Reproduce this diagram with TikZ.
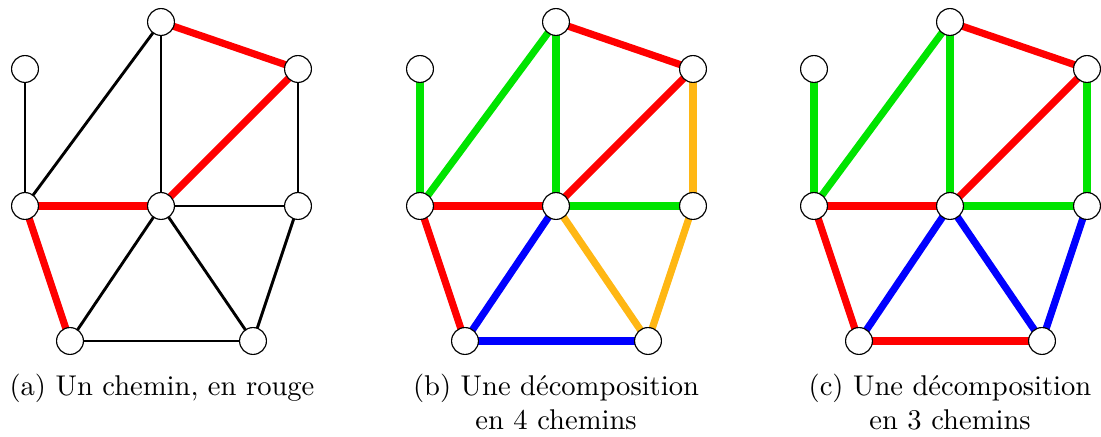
\documentclass[tikz,border=0pt]{standalone}
\usetikzlibrary{backgrounds}
\definecolor{cred}{RGB}{255,0,0}
\definecolor{cgreen}{RGB}{0,228,0}
\definecolor{cblue}{RGB}{0,0,255}
\definecolor{corange}{RGB}{255,183,20}
\tikzset{
  vtx/.style={circle, draw=black, line width=0.4pt, fill=white, minimum size=9.4pt, inner sep=0pt},
  blk/.style={draw=black, line width=1pt},
  col/.style={draw=#1, line width=2.5pt},
  captxt/.style={anchor=base, font=\fontsize{10}{12}\selectfont, inner sep=0pt}
}
\newcommand{\mkgraph}[2]{%
  \node[vtx] (#1t)  at (161+#2,22)  {};
  \node[vtx] (#1tr) at (298+#2,69)  {};
  \node[vtx] (#1lt) at (25+#2,69)   {};
  \node[vtx] (#1lm) at (25+#2,206)  {};
  \node[vtx] (#1c)  at (161+#2,206) {};
  \node[vtx] (#1rm) at (298+#2,206) {};
  \node[vtx] (#1bl) at (70+#2,341)  {};
  \node[vtx] (#1br) at (253+#2,341) {};
}
\begin{document}
\begin{tikzpicture}[x=0.35pt,y=-0.35pt]
\useasboundingbox (0,0) rectangle (1101,437);
\mkgraph{a}{0}
\mkgraph{b}{395}
\mkgraph{c}{789}
\begin{scope}[on background layer]
  % (a)
  \draw[blk] (alt.center) -- (alm.center);
  \draw[blk] (alm.center) -- (at.center);
  \draw[blk] (at.center) -- (ac.center);
  \draw[blk] (atr.center) -- (arm.center);
  \draw[blk] (ac.center) -- (arm.center);
  \draw[blk] (ac.center) -- (abl.center);
  \draw[blk] (ac.center) -- (abr.center);
  \draw[blk] (abl.center) -- (abr.center);
  \draw[blk] (arm.center) -- (abr.center);
  \draw[col=cred] (at.center) -- (atr.center);
  \draw[col=cred] (atr.center) -- (ac.center);
  \draw[col=cred] (ac.center) -- (alm.center);
  \draw[col=cred] (alm.center) -- (abl.center);
  % (b)
  \draw[col=cgreen] (blt.center) -- (blm.center);
  \draw[col=cgreen] (blm.center) -- (bt.center);
  \draw[col=cgreen] (bt.center) -- (bc.center);
  \draw[col=cgreen] (bc.center) -- (brm.center);
  \draw[col=cred] (bt.center) -- (btr.center);
  \draw[col=cred] (btr.center) -- (bc.center);
  \draw[col=cred] (bc.center) -- (blm.center);
  \draw[col=cred] (blm.center) -- (bbl.center);
  \draw[col=corange] (btr.center) -- (brm.center);
  \draw[col=corange] (brm.center) -- (bbr.center);
  \draw[col=corange] (bbr.center) -- (bc.center);
  \draw[col=cblue] (bc.center) -- (bbl.center);
  \draw[col=cblue] (bbl.center) -- (bbr.center);
  % (c)
  \draw[col=cgreen] (clt.center) -- (clm.center);
  \draw[col=cgreen] (clm.center) -- (ct.center);
  \draw[col=cgreen] (ct.center) -- (cc.center);
  \draw[col=cgreen] (ctr.center) -- (crm.center);
  \draw[col=cgreen] (cc.center) -- (crm.center);
  \draw[col=cred] (ct.center) -- (ctr.center);
  \draw[col=cred] (ctr.center) -- (cc.center);
  \draw[col=cred] (cc.center) -- (clm.center);
  \draw[col=cred] (clm.center) -- (cbl.center);
  \draw[col=cred] (cbl.center) -- (cbr.center);
  \draw[col=cblue] (cc.center) -- (cbl.center);
  \draw[col=cblue] (cc.center) -- (cbr.center);
  \draw[col=cblue] (cbr.center) -- (crm.center);
\end{scope}
\node[captxt] (capa)  at (162,395) {(a) Un chemin, en rouge};
\node[captxt] (capb1) at (556,395) {(b) Une décomposition};
\node[captxt] (capb2) at (556,429) {en 4 chemins};
\node[captxt] (capc1) at (950,395) {(c) Une décomposition};
\node[captxt] (capc2) at (950,429) {en 3 chemins};
\end{tikzpicture}
\end{document}
